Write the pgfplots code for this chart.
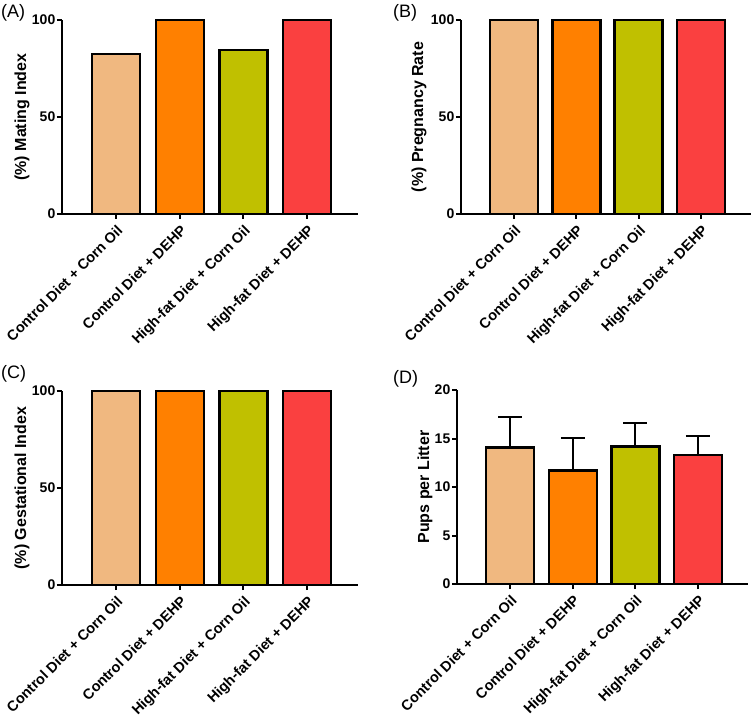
\documentclass[border=0pt]{standalone}
\usepackage{pgfplots}
\pgfplotsset{compat=1.18}
\usepackage{fontspec}
\setmainfont{Liberation Sans}

\definecolor{cpeach}{RGB}{240,184,128}
\definecolor{corange}{RGB}{255,128,0}
\definecolor{colive}{RGB}{192,192,0}
\definecolor{cred}{RGB}{250,64,64}

\pgfplotsset{
  panel/.style={
    scale only axis,
    height=194pt,
    axis lines*=left,
    ymin=0,
    xmin=-0.85, xmax=3.8,
    xtick={0,1,2,3},
    xticklabels={Control Diet + Corn Oil, Control Diet + DEHP, High-fat Diet + Corn Oil, High-fat Diet + DEHP},
    tick align=outside,
    major tick length=5pt,
    axis line style={line width=2pt},
    every tick/.style={line width=2pt, black},
    /pgf/number format/assume math mode=true,
    yticklabel style={font=\fontsize{14}{14}\selectfont\bfseries, inner sep=1.5pt},
    xticklabel style={font=\fontsize{14.5}{14.5}\selectfont\bfseries, rotate=45, anchor=north east, inner sep=2pt},
    xticklabel shift=2pt,
    ylabel style={font=\fontsize{16}{16}\selectfont\bfseries, anchor=center},
    clip=false,
  },
  bars/.style={ybar, bar width=48pt, draw=black, line width=2.5pt, fill=#1},
  errs/.style={error bars/.cd, y dir=plus, y explicit,
    error bar style={line width=2pt, black},
    error mark options={rotate=90, mark size=12pt, line width=2pt, black}},
}

\begin{document}
\begin{tikzpicture}[x=1pt,y=1pt]
\useasboundingbox (0,0) rectangle (756,721);

\node[anchor=north west, inner sep=0pt, font=\fontsize{18}{18}\selectfont] at (1,717) {(A)};
\node[anchor=north west, inner sep=0pt, font=\fontsize{18}{18}\selectfont] at (393,717) {(B)};
\node[anchor=north west, inner sep=0pt, font=\fontsize{18}{18}\selectfont] at (1,356) {(C)};
\node[anchor=north west, inner sep=0pt, font=\fontsize{18}{18}\selectfont] at (393,351) {(D)};

% (A) mating index
\begin{axis}[panel, at={(62pt,507pt)}, anchor=south west, width=296pt,
  ymax=100, ytick={0,50,100}, ylabel={(\%) Mating Index},
  ylabel style={at={(axis description cs:-0.135,0.5)}}]
\addplot[bars=cpeach] coordinates {(0,82.4)};
\addplot[bars=corange] coordinates {(1,100)};
\addplot[bars=colive] coordinates {(2,84.6)};
\addplot[bars=cred] coordinates {(3,100)};
\end{axis}

% (B) pregnancy rate
\begin{axis}[panel, at={(461pt,507pt)}, anchor=south west, width=290pt,
  ymax=100, ytick={0,50,100}, ylabel={(\%) Pregnancy Rate},
  ylabel style={at={(axis description cs:-0.145,0.5)}}]
\addplot[bars=cpeach] coordinates {(0,100)};
\addplot[bars=corange] coordinates {(1,100)};
\addplot[bars=colive] coordinates {(2,100)};
\addplot[bars=cred] coordinates {(3,100)};
\end{axis}

% (C) gestational index
\begin{axis}[panel, at={(62pt,136pt)}, anchor=south west, width=296pt,
  ymax=100, ytick={0,50,100}, ylabel={(\%) Gestational Index},
  ylabel style={at={(axis description cs:-0.135,0.5)}}]
\addplot[bars=cpeach] coordinates {(0,100)};
\addplot[bars=corange] coordinates {(1,100)};
\addplot[bars=colive] coordinates {(2,100)};
\addplot[bars=cred] coordinates {(3,100)};
\end{axis}

% (D) pups per litter
\begin{axis}[panel, at={(457pt,137pt)}, anchor=south west, width=291pt,
  ymax=20, ytick={0,5,10,15,20}, ylabel={Pups per Litter},
  ylabel style={at={(axis description cs:-0.11,0.5)}}]
\addplot[bars=cpeach, errs] coordinates {(0,14.05) +- (0,3.2)};
\addplot[bars=corange, errs] coordinates {(1,11.68) +- (0,3.4)};
\addplot[bars=colive, errs] coordinates {(2,14.2) +- (0,2.43)};
\addplot[bars=cred, errs] coordinates {(3,13.3) +- (0,1.96)};
\end{axis}
\end{tikzpicture}
\end{document}
